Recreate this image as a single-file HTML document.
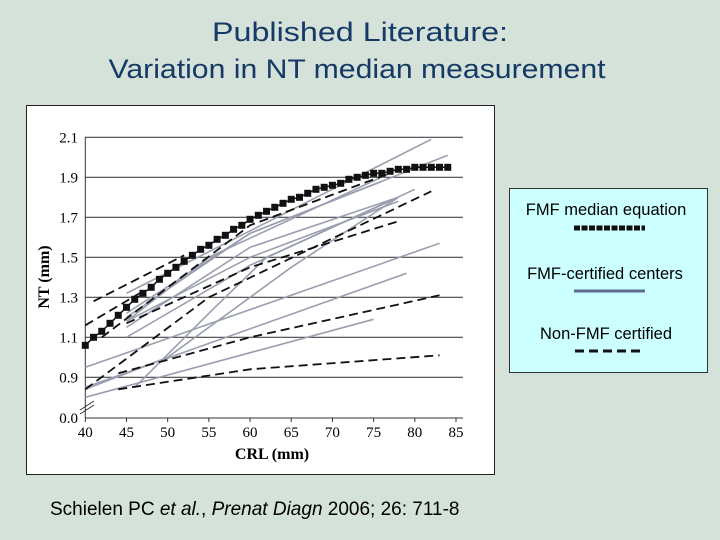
<!DOCTYPE html>
<html><head><meta charset="utf-8"><style>
html,body{margin:0;padding:0;background:#d5e2da;}
svg{display:block;font-family:"Liberation Sans",sans-serif;}
</style></head><body>
<svg id="s" width="720" height="540" viewBox="0 0 720 540">
<rect width="720" height="540" fill="#d5e2da"/>
<text x="360" y="41" text-anchor="middle" font-size="27" fill="#163a66" textLength="296" lengthAdjust="spacingAndGlyphs">Published Literature:</text>
<text x="357" y="78" text-anchor="middle" font-size="27" fill="#163a66" textLength="497" lengthAdjust="spacingAndGlyphs">Variation in NT median measurement</text>
<rect x="26.5" y="105.5" width="468" height="369" fill="#fff" stroke="#222" stroke-width="1"/>
<g id="plot"></g>
<text x="50" y="515" font-size="19" fill="#000">Schielen PC <tspan font-style="italic">et al.</tspan>, <tspan font-style="italic">Prenat Diagn</tspan> 2006; 26: 711-8</text>
<g>
<rect x="509.5" y="188.5" width="198" height="184" fill="#ccffff" stroke="#333"/>
<text x="606" y="215" text-anchor="middle" font-size="16.5">FMF median equation</text>
<line x1="574" y1="228" x2="645" y2="228" stroke="#111" stroke-width="5" stroke-dasharray="6,1.5"/>
<text x="605" y="279" text-anchor="middle" font-size="16.5">FMF-certified centers</text>
<line x1="574" y1="291" x2="645" y2="291" stroke="#5f6b8f" stroke-width="3"/>
<text x="606" y="339" text-anchor="middle" font-size="16.5">Non-FMF certified</text>
<line x1="575" y1="351" x2="645" y2="351" stroke="#111" stroke-width="3" stroke-dasharray="9,5"/>
</g>
</svg>
<script>
const xTicks=[40,45,50,55,60,65,70,75,80,85];
const yTicks=[0.9,1.1,1.3,1.5,1.7,1.9,2.1];
const yTickLabels=["0.9","1.1","1.3","1.5","1.7","1.9","2.1"];
const medianCRL=[40,41,42,43,44,45,46,47,48,49,50,51,52,53,54,55,56,57,58,59,60,61,62,63,64,65,66,67,68,69,70,71,72,73,74,75,76,77,78,79,80,81,82,83,84];
const medianNT=[1.06,1.10,1.13,1.17,1.21,1.25,1.29,1.32,1.35,1.39,1.42,1.45,1.48,1.51,1.54,1.56,1.59,1.61,1.64,1.66,1.69,1.71,1.73,1.75,1.77,1.79,1.80,1.82,1.84,1.85,1.86,1.87,1.89,1.90,1.91,1.92,1.92,1.93,1.94,1.94,1.95,1.95,1.95,1.95,1.95];
const certified=[
 [[45,1.32],[82,2.09]],
 [[45,1.20],[60,1.62],[84,2.01]],
 [[45,1.10],[60,1.46],[80,1.84]],
 [[40,0.95],[83,1.57]],
 [[40,0.85],[79,1.42]],
 [[40,0.80],[75,1.19]],
 [[46,0.85],[55,1.22],[62,1.50],[78,1.80]],
 [[40,0.84],[50,1.00],[65,1.45],[78,1.80]],
 [[45,1.18],[55,1.50],[77,1.92]],
 [[45,1.22],[60,1.62],[76,1.88]],
 [[45,1.15],[60,1.55],[78,1.80]],
 [[45,1.18],[60,1.50],[78,1.78]]
];
const nonCertified=[
 [[41,1.28],[52,1.51]],
 [[40,1.16],[47,1.33]],
 [[42,1.10],[60,1.66],[77,1.92]],
 [[45,1.17],[60,1.45],[78,1.68]],
 [[40,0.84],[55,1.30],[82,1.83]],
 [[44,0.92],[60,1.10],[83,1.31]],
 [[44,0.84],[60,0.94],[83,1.01]]
];
const NS="http://www.w3.org/2000/svg";
const g=document.getElementById('plot');
function xs(v){return 85.3+(v-40)*370.7/45;}
function ys(v){return 377.3-(v-0.9)*200;}
function mk(t,a){const e=document.createElementNS(NS,t);for(const k in a)e.setAttribute(k,a[k]);g.appendChild(e);return e;}
yTicks.forEach((v,i)=>{
 const l=mk('line',{x1:85,x2:463,y1:ys(v),y2:ys(v),stroke:'#444','stroke-width':1.2});
 
 
 const t=mk('text',{x:78,y:ys(v)+5,'text-anchor':'end','font-size':15,'font-family':'Liberation Serif, serif'});
 t.textContent=yTickLabels[i];
 
 
});
const z=mk('text',{x:78,y:423,'text-anchor':'end','font-size':15,'font-family':'Liberation Serif, serif'});z.textContent="0.0";


const ax=mk('line',{x1:85.3,x2:85.3,y1:137,y2:418,stroke:'#333','stroke-width':1});


const bx=mk('line',{x1:85.3,x2:463,y1:418,y2:418,stroke:'#333','stroke-width':1});


const br=mk('path',{d:'M80,410 L94,401 M80,414 L94,405',stroke:'#333','stroke-width':1,fill:'none'});


xTicks.forEach(v=>{
 const tk=mk('line',{x1:xs(v),x2:xs(v),y1:418,y2:422,stroke:'#333'});
 
 
 const t=mk('text',{x:xs(v),y:437,'text-anchor':'middle','font-size':15,'font-family':'Liberation Serif, serif'});
 t.textContent=v;
 
 
});
const xt=mk('text',{x:272,y:459,'text-anchor':'middle','font-size':16,'font-weight':'bold','font-family':'Liberation Serif, serif'});xt.textContent="CRL (mm)";


const yt=mk('text',{x:0,y:0,'text-anchor':'middle','font-size':16,'font-weight':'bold','font-family':'Liberation Serif, serif',transform:'translate(49,277) rotate(-90)'});yt.textContent="NT (mm)";


function pts(a){return a.map(p=>xs(p[0])+','+ys(p[1])).join(' ');}
certified.forEach(s=>{
 const p=mk('polyline',{points:pts(s),fill:'none',stroke:'#9a9fb0','stroke-width':1.6});
 
 
});
nonCertified.forEach(s=>{
 const p=mk('polyline',{points:pts(s),fill:'none',stroke:'#111','stroke-width':1.8,'stroke-dasharray':'9,5'});
 
 
});
const ml=mk('polyline',{points:pts(medianCRL.map((c,i)=>[c,medianNT[i]])),fill:'none',stroke:'#111','stroke-width':1.5});


medianCRL.forEach((c,i)=>{
 const r=mk('rect',{x:xs(c)-3.5,y:ys(medianNT[i])-3.5,width:7,height:7,fill:'#111'});
 
 
});
</script>
</body></html>
